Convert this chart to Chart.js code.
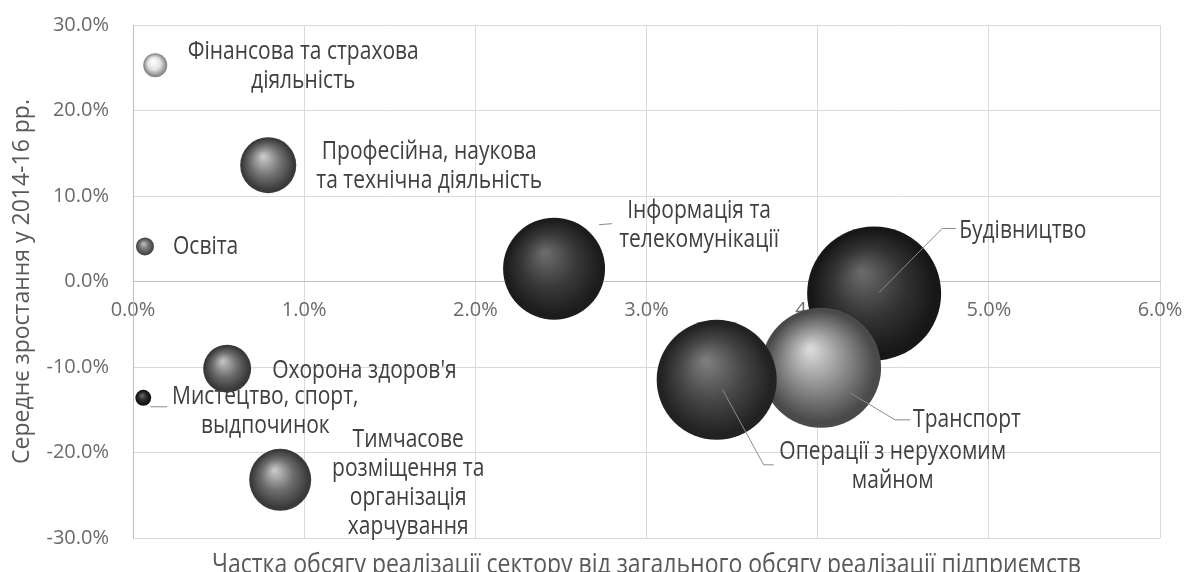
<!DOCTYPE html>
<html lang="uk">
<head>
<meta charset="utf-8">
<title>Сектори: частка та зростання</title>
<script src="https://cdn.jsdelivr.net/npm/chart.js@4.4.1/dist/chart.umd.min.js"></script>
<style>
    html, body { margin: 0; padding: 0; background: #ffffff; }
    #bubbleChart { display: block; }
</style>
</head>
<body>
<canvas id="bubbleChart" width="1189" height="572"></canvas>
<script>
// Дані секторів (читано з малюнка)
const sectors = [
    'Фінансова та страхова діяльність',
    'Професійна, наукова та технічна діяльність',
    'Освіта',
    'Інформація та телекомунікації',
    'Будівництво',
    'Транспорт',
    'Операції з нерухомим майном',
    "Охорона здоров'я",
    'Мистецтво, спорт, відпочинок',
    'Тимчасове розміщення та організація харчування'
];
// Частка обсягу реалізації сектору, %
const shareOfSales = [0.13, 0.79, 0.07, 2.46, 4.33, 4.02, 3.41, 0.55, 0.06, 0.86];
// Середнє зростання у 2014-16 рр., %
const avgGrowth = [25.3, 13.6, 4.1, 1.5, -1.4, -10.1, -11.5, -10.2, -13.6, -23.2];
// Відносний розмір бульбашки (площа)
const bubbleSize = [3.2, 17.5, 1.8, 57.9, 100, 80.2, 80.2, 12.8, 1.4, 21.4];

const xTicks = [0, 1, 2, 3, 4, 5, 6];
const yTicks = [-30, -20, -10, 0, 10, 20, 30];

// Підписи як на діаграмі (по рядках)
const labelLines = [
    ['Фінансова та страхова', 'діяльність'],
    ['Професійна, наукова', 'та технічна діяльність'],
    ['Освіта'],
    ['Інформація та', 'телекомунікації'],
    ['Будівництво'],
    ['Транспорт'],
    ['Операції з нерухомим', 'майном'],
    ["Охорона здоров'я"],
    ['Мистецтво, спорт,', 'выдпочинок'],
    ['Тимчасове', 'розміщення та', 'організація', 'харчування']
];

// Розміщення підписів відносно центру бульбашки
const labelLayout = [
    { dx: 148, dy: 1, align: 'center' },
    { dx: 161, dy: 1, align: 'center' },
    { dx: 28, dy: 0, align: 'left' },
    { dx: 145, dy: -43, align: 'center', leader: [[45, -44], [58, -45]] },
    { dx: 85, dy: -63, align: 'left', leader: [[5, -1], [68, -65], [82, -65]] },
    { dx: 92, dy: 52, align: 'left', leader: [[29, 25], [74, 52], [89, 52]] },
    { dx: 176, dy: 86, align: 'center', leader: [[6, 10], [47, 85], [57, 85]] },
    { dx: 45, dy: 2, align: 'left' },
    { dx: 122, dy: 14, align: 'center', leader: [[7, 9], [24, 9]] },
    { dx: 128, dy: 3, align: 'center' }
];

// Кольори куль: [відблиск, основний, край]
const sphereColors = [
    ['#ffffff', '#e4e4e4', '#8a8a8a'],
    ['#c8c8c8', '#747474', '#3a3a3a'],
    ['#bcbcbc', '#727272', '#444444'],
    ['#6a6a6a', '#393939', '#1c1c1c'],
    ['#686868', '#343434', '#171717'],
    ['#d8d8d8', '#8a8a8a', '#4a4a4a'],
    ['#7c7c7c', '#464646', '#222222'],
    ['#c0c0c0', '#6c6c6c', '#383838'],
    ['#666666', '#2a2a2a', '#101010'],
    ['#c6c6c6', '#6c6c6c', '#3a3a3a']
];

const MAX_RADIUS = 67;
const FONT = '"Open Sans", "DejaVu Sans", sans-serif';
const TEXT_STRETCH = 1.2; // текст в оригіналі трохи витягнутий по вертикалі

function radiusFor(size) {
    return MAX_RADIUS * Math.sqrt(size / 100);
}

// Радіальний градієнт — імітація об'ємної кулі
function sphereFill(context) {
    const chart = context.chart;
    const c = sphereColors[context.dataIndex] || sphereColors[0];
    const sx = chart.scales.x;
    const sy = chart.scales.y;
    if (!context.raw || !sx || !sy) return c[1];
    const px = sx.getPixelForValue(context.raw.x);
    const py = sy.getPixelForValue(context.raw.y);
    const r = context.raw.r;
    if (!isFinite(px) || !isFinite(py)) return c[1];
    const g = chart.ctx.createRadialGradient(px - r * 0.18, py - r * 0.31, r * 0.04, px, py, r);
    g.addColorStop(0, c[0]);
    g.addColorStop(0.5, c[1]);
    g.addColorStop(0.92, c[2]);
    g.addColorStop(1, c[2]);
    return g;
}

// Прибрати внутрішні відступи осі, щоб область побудови була як в оригіналі
function noPadding(scale) {
    scale.paddingLeft = 0;
    scale.paddingRight = 0;
    scale.paddingTop = 0;
    scale.paddingBottom = 0;
}

function stretchedText(ctx, text, x, y) {
    ctx.save();
    ctx.translate(x, y);
    ctx.scale(1, TEXT_STRETCH);
    ctx.fillText(text, 0, 0);
    ctx.restore();
}

// Підписи секторів з виносками
const sectorLabels = {
    id: 'sectorLabels',
    afterDatasetsDraw(chart) {
        const ctx = chart.ctx;
        const meta = chart.getDatasetMeta(0);
        const lh = 29;
        ctx.save();
        meta.data.forEach((pt, i) => {
            const lay = labelLayout[i];
            if (lay.leader) {
                ctx.strokeStyle = '#8c8c8c';
                ctx.lineWidth = 1;
                ctx.beginPath();
                lay.leader.forEach(([dx, dy], k) => {
                    if (k === 0) ctx.moveTo(pt.x + dx, pt.y + dy);
                    else ctx.lineTo(pt.x + dx, pt.y + dy);
                });
                ctx.stroke();
            }
            const lines = labelLines[i];
            const y0 = pt.y + lay.dy - (lines.length - 1) * lh / 2;
            ctx.font = '21px ' + FONT;
            ctx.fillStyle = '#404040';
            ctx.textAlign = lay.align;
            ctx.textBaseline = 'middle';
            lines.forEach((t, k) => stretchedText(ctx, t, pt.x + lay.dx, y0 + k * lh));
        });
        ctx.restore();
    },
    afterDraw(chart) {
        // Назва осі X знизу (обрізана краєм, як в оригіналі)
        const ctx = chart.ctx;
        const area = chart.chartArea;
        ctx.save();
        ctx.font = '23px ' + FONT;
        ctx.fillStyle = '#595959';
        ctx.textAlign = 'center';
        ctx.textBaseline = 'alphabetic';
        stretchedText(ctx, 'Частка обсягу реалізації сектору від загального обсягу реалізації підприємств',
            (area.left + area.right) / 2, 573);
        ctx.restore();
    }
};

function createBubbleChart() {
    const ctx = document.getElementById('bubbleChart').getContext('2d');

    const points = sectors.map((name, i) => ({
        x: shareOfSales[i],
        y: avgGrowth[i],
        r: radiusFor(bubbleSize[i])
    }));

    return new Chart(ctx, {
        type: 'bubble',
        data: {
            datasets: [{
                label: 'Сектори',
                data: points,
                backgroundColor: sphereFill,
                borderWidth: 0,
                clip: false
            }]
        },
        options: {
            responsive: false,
            animation: false,
            events: [],
            layout: {
                autoPadding: false,
                padding: { left: 0, right: 29, top: 25, bottom: 34 }
            },
            plugins: {
                legend: { display: false },
                tooltip: { enabled: false }
            },
            scales: {
                x: {
                    type: 'linear',
                    position: { y: 0 },
                    min: xTicks[0],
                    max: xTicks[xTicks.length - 1],
                    afterBuildTicks: (scale) => { scale.ticks = xTicks.map(v => ({ value: v })); },
                    afterFit: noPadding,
                    grid: { color: '#d9d9d9', drawTicks: false },
                    border: { color: '#bfbfbf' },
                    ticks: {
                        padding: 17,
                        color: '#6a6a6a',
                        font: { family: FONT, size: 20 },
                        callback: (v) => v.toFixed(1) + '%'
                    }
                },
                y: {
                    type: 'linear',
                    position: 'left',
                    min: yTicks[0],
                    max: yTicks[yTicks.length - 1],
                    afterBuildTicks: (scale) => { scale.ticks = yTicks.map(v => ({ value: v })); },
                    afterFit: (scale) => { noPadding(scale); scale.width = 133; },
                    grid: { color: '#d9d9d9', drawTicks: false },
                    border: { color: '#bfbfbf' },
                    ticks: {
                        padding: 24,
                        color: '#6a6a6a',
                        font: { family: FONT, size: 20 },
                        callback: (v) => v.toFixed(1) + '%'
                    },
                    title: {
                        display: true,
                        text: 'Середнє зростання у 2014-16 рр.',
                        color: '#595959',
                        font: { family: FONT, size: 23 },
                        padding: { top: 9, bottom: 0 }
                    }
                }
            }
        },
        plugins: [sectorLabels]
    });
}

createBubbleChart();
</script>
</body>
</html>
